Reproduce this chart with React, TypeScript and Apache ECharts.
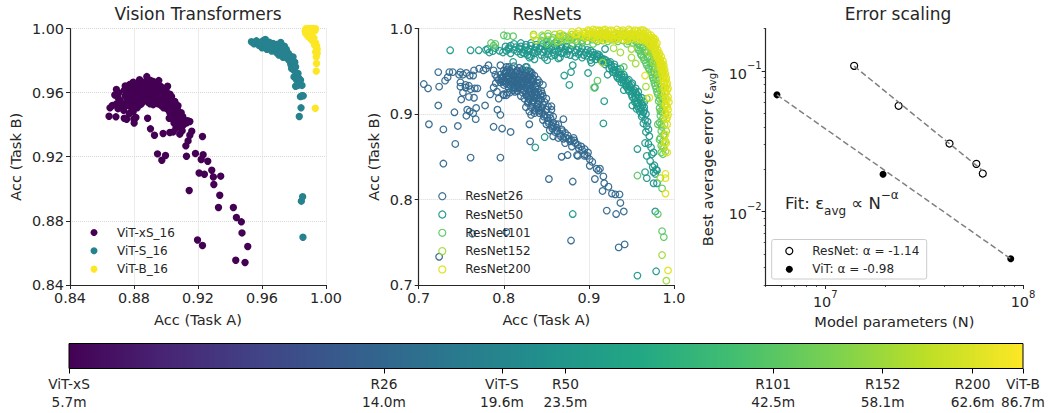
import React, { useEffect, useRef } from "react";
import * as echarts from "echarts";

const FONT = "DejaVu Sans";
const INK = "#262626";

const vitXS = [
  [.8644,.9453],[.8687,.9449],[.8739,.9440],[.8754,.9434],[.8799,.9436],[.8812,.9445],[.8801,.9411],[.8885,.9440],[.8903,.9374],[.8928,.9334],
  [.8947,.9218],[.8997,.9208],[.8974,.9178],[.8982,.9345],[.9024,.9351],[.9045,.9355],[.9086,.9341],[.9086,.9391],[.9118,.9418],[.9149,.9420],
  [.9161,.9359],[.9149,.9334],[.9138,.9299],[.9124,.9268],[.9128,.9203],[.9228,.9326],[.9184,.9220],[.9232,.9212],[.9220,.9183],[.9261,.9172],
  [.9207,.9099],[.9240,.9091],[.9286,.9116],[.9296,.9074],[.9299,.9027],[.9342,.9079],[.9336,.8960],[.9328,.8883],[.9145,.8989],[.9421,.8883],
  [.9440,.8821],[.9471,.8794],[.9475,.8725],[.9197,.8681],[.9228,.8646],[.9511,.8640],[.9436,.8554],[.9494,.8540],
  [.8690,.9620],[.8740,.9615],[.8795,.9665],[.8835,.9680],[.8880,.9700],[.8920,.9670],[.8955,.9675],[.8985,.9625],[.9025,.9590],[.9045,.9545],
  [.9060,.9505],[.9085,.9460],[.9118,.9425],[.8650,.9505],[.8690,.9530],[.8680,.9585],[.8715,.9550],[.8750,.9530],[.8780,.9510],[.8810,.9540],
  [.8850,.9535],[.8900,.9530],[.8950,.9530],[.9000,.9505],[.9020,.9440],[.9050,.9410],
  [.8745,.9642],[.8772,.9650],[.8801,.9633],[.8823,.9655],[.8852,.9640],[.8881,.9668],[.8912,.9645],[.8938,.9652],[.8967,.9638],[.8992,.9610],
  [.8790,.9604],[.8818,.9592],[.8849,.9610],[.8877,.9598],[.8908,.9615],[.8936,.9602],[.8969,.9590],[.9004,.9598],[.9021,.9562],
  [.8782,.9572],[.8809,.9565],[.8838,.9578],[.8871,.9560],[.8902,.9574],[.8931,.9562],[.8960,.9575],[.8991,.9560],[.9018,.9528],[.9040,.9515],
  [.8830,.9545],[.8861,.9552],[.8889,.9540],[.8921,.9545],[.8951,.9552],[.8982,.9535],[.9012,.9495],[.9038,.9470],
  [.9024,.9475],[.9050,.9478],[.9072,.9492],[.9033,.9442],[.9062,.9452],[.9094,.9440],[.9130,.9412],[.9068,.9410],[.9090,.9385],[.9062,.9378],[.9101,.9362],
  [.8760,.9590],[.8755,.9520],[.8735,.9490],[.8790,.9530],[.8830,.9610],[.8860,.9665],[.8905,.9675],[.8950,.9610],[.9005,.9545],[.8985,.9505],
  [.8730,.9510],[.8700,.9500],[.8665,.9520],[.8795,.9480],[.8820,.9505],[.8770,.9470],[.9060,.9530],[.9085,.9420],[.9010,.9640],[.8770,.9620],
  [.8760,.9622],[.8790,.9628],[.8820,.9618],[.8850,.9622],[.8880,.9630],[.8910,.9622],[.8940,.9626],[.8970,.9618],[.9000,.9615],
  [.8770,.9585],[.8800,.9590],[.8830,.9582],[.8860,.9588],[.8890,.9582],[.8920,.9590],[.8950,.9582],[.8980,.9588],[.9010,.9580],[.9035,.9575],
  [.8800,.9552],[.8830,.9558],[.8860,.9560],[.8890,.9555],[.8920,.9558],[.8950,.9552],[.8980,.9560],[.9010,.9552],[.9035,.9548],[.9055,.9545],
  [.8840,.9525],[.8920,.9525],[.8970,.9520],[.9020,.9520],[.9050,.9522],[.9075,.9518],[.8700,.9570],[.8705,.9600],[.8745,.9580],[.8760,.9555],
  [.9035,.9490],[.9065,.9488],[.9095,.9475],[.9055,.9455],[.9085,.9445],[.9105,.9450],[.9075,.9425],[.9110,.9400],[.9135,.9425],[.8720,.9525]
];
const vitS = [
  [.9534,.9917],[.9550,.9905],[.9565,.9923],[.9580,.9895],[.9590,.9915],[.9600,.9880],[.9610,.9925],[.9621,.9931],[.9627,.9900],[.9630,.9870],
  [.9645,.9915],[.9650,.9885],[.9660,.9860],[.9669,.9906],[.9675,.9880],[.9690,.9900],[.9690,.9850],[.9700,.9870],[.9705,.9835],[.9717,.9913],
  [.9720,.9855],[.9725,.9885],[.9731,.9820],[.9740,.9890],[.9745,.9845],[.9752,.9869],[.9755,.9815],[.9765,.9845],[.9770,.9800],[.9775,.9830],
  [.9780,.9775],[.9794,.9823],[.9790,.9790],[.9785,.9750],[.9800,.9740],[.9805,.9790],[.9810,.9760],[.9814,.9720],[.9800,.9698],[.9825,.9719],
  [.9815,.9680],[.9830,.9690],[.9841,.9678],[.9810,.9640],[.9825,.9645],[.9850,.9645],[.9840,.9575],[.9848,.9580],[.9858,.9580],[.9844,.9505],
  [.9833,.9451],[.9846,.8923],[.9854,.8950],[.9856,.8698]
];
const vitB = [
  [.9933,.9503],[.9939,.9734],[.9941,.9782],[.9939,.9823],[.9945,.9845],[.9935,.9854],[.9945,.9870],[.9929,.9896],[.9942,.9890],[.9935,.9910],
  [.9920,.9920],[.9908,.9931],[.9925,.9940],[.9895,.9945],[.9887,.9952],[.9910,.9960],[.9873,.9969],[.9895,.9970],[.9870,.9985],[.9885,.9985],
  [.9900,.9985],[.9915,.9985],[.9930,.9985],[.9875,.9998],[.9890,1.0],[.9905,.9998],[.9920,1.0],[.9935,.9998]
];
const resnet26 = [
  [.706,.935],[.711,.930],[.712,.888],[.723,.949],[.724,.932],[.723,.910],[.729,.882],[.743,.865],[.742,.902],[.746,.886],[.761,.849],[.796,.849],
  [.731,.939],[.734,.943],[.736,.949],[.740,.949],[.7475,.946],[.749,.949],[.752,.946],[.756,.948],[.760,.945],[.764,.945],[.765,.951],[.771,.953],
  [.776,.951],[.779,.953],[.782,.957],[.788,.951],[.790,.946],[.796,.957],[.803,.955],[.749,.937],[.749,.932],[.755,.934],[.759,.933],[.755,.931],
  [.766,.930],[.769,.930],[.761,.929],[.752,.925],[.759,.920],[.765,.919],[.750,.917],[.778,.910],[.784,.923],[.788,.931],[.7905,.936],[.794,.918],
  [.7995,.923],[.803,.922],[.807,.925],[.813,.926],[.7925,.905],[.796,.899],[.757,.905],[.7675,.907],[.760,.903],[.764,.901],[.756,.898],[.767,.894],
  [.788,.885],[.798,.883],[.808,.879],[.830,.888],[.831,.868],[.729,.842],[.724,.733],[.763,.760],[.803,.762],
  [.806,.955],[.812,.956],[.818,.954],[.826,.955],[.800,.951],[.804,.952],[.810,.953],[.816,.951],[.822,.952],[.830,.950],[.808,.949],[.814,.948],
  [.820,.950],[.826,.948],[.832,.949],[.796,.946],[.802,.947],[.806,.945],[.812,.946],[.818,.947],[.824,.945],[.830,.946],[.836,.945],[.792,.943],
  [.798,.942],[.804,.944],[.810,.942],[.816,.943],[.822,.942],[.828,.944],[.834,.942],[.794,.940],[.800,.939],[.806,.941],[.812,.939],[.818,.940],
  [.826,.939],[.832,.940],[.840,.940],[.796,.937],[.802,.936],[.808,.938],[.814,.936],[.820,.937],[.828,.936],[.834,.938],[.842,.937],[.800,.934],
  [.808,.933],[.816,.934],[.822,.933],[.830,.935],[.838,.933],[.846,.934],[.806,.930],[.812,.931],[.820,.929],[.826,.931],[.832,.930],[.840,.929],
  [.792,.926],[.804,.925],[.816,.927],[.822,.925],[.830,.926],[.836,.925],[.844,.927],[.800,.922],[.820,.921],[.826,.923],[.832,.921],[.838,.922],
  [.846,.921],[.824,.918],[.830,.917],[.836,.919],[.844,.917],[.850,.918],
  [.803,.950],[.809,.947],[.815,.950],[.821,.946],[.827,.951],[.833,.947],[.799,.944],[.805,.940],[.811,.944],[.817,.939],[.823,.940],[.829,.942],
  [.835,.940],[.803,.938],[.809,.935],[.815,.938],[.821,.935],[.827,.934],[.833,.936],[.839,.936],[.811,.928],[.817,.931],[.823,.928],[.829,.929],
  [.835,.928],[.841,.925],[.827,.921],[.833,.924],[.839,.919],[.845,.924],[.835,.916],[.841,.915],[.848,.914],[.829,.914],
  [.801,.948],[.807,.951],[.813,.944],[.819,.944],[.825,.949],[.831,.944],[.797,.941],[.803,.942],[.809,.940],[.815,.941],[.821,.938],[.827,.941],
  [.833,.938],[.799,.938],[.805,.935],[.811,.937],[.817,.936],[.824,.936],[.831,.933],[.837,.931],[.814,.930],[.818,.933],[.825,.927],[.831,.927],
  [.837,.926],[.843,.922],[.829,.919],[.835,.921],[.841,.918],[.833,.912],[.839,.909],[.845,.908],[.836,.904],[.841,.904],
  [.828,.913],[.834,.914],[.840,.912],[.846,.911],[.852,.909],[.856,.909],[.826,.908],[.832,.908],[.838,.906],[.844,.906],[.850,.905],[.856,.905],
  [.830,.903],[.836,.901],[.832,.899],[.842,.901],[.848,.899],[.854,.899],[.858,.897],[.846,.893],[.852,.892],[.858,.890],[.864,.888],[.850,.888],
  [.856,.886],[.862,.884],[.868,.882],[.854,.881],[.860,.879],[.866,.877],[.872,.878],[.858,.874],[.864,.872],[.870,.871],[.876,.871],[.882,.872],
  [.872,.866],[.878,.868],[.884,.866],[.880,.862],[.888,.860],[.892,.858],[.886,.852],[.895,.853],[.870,.894],[.868,.850],[.875,.852],[.887,.851],
  [.855,.895],[.851,.896],[.853,.889],[.857,.883],[.861,.888],[.863,.880],[.859,.885],[.867,.874],[.869,.880],[.873,.872],[.875,.875],[.879,.870],
  [.883,.869],[.887,.864],[.891,.862],[.895,.859],[.899,.855],[.847,.897],[.845,.902],[.841,.907],
  [.895,.851],[.898,.851],[.901,.847],[.904,.844],[.901,.8395],[.909,.836],[.913,.836],[.911,.834],[.907,.824],[.917,.827],[.918,.819],[.923,.815],
  [.916,.810],[.927,.807],[.931,.806],[.936,.806],[.937,.796],[.921,.787],[.932,.783],[.941,.786],[.935,.744],[.942,.7475],[.879,.752],[.853,.824],[.881,.821]
];
const resnet50 = [
  [.737,.9745],[.761,.9745],[.7706,.9745],[.779,.975],[.781,.976],[.783,.972],[.787,.9735],[.790,.977],[.795,.974],[.799,.972],[.803,.974],[.806,.978],
  [.808,.971],[.811,.961],[.827,.955],[.830,.966],[.836,.964],[.824,.971],
  [.812,.982],[.820,.983],[.826,.981],[.832,.983],[.838,.981],[.846,.982],[.852,.981],[.860,.983],[.868,.981],[.802,.979],[.808,.980],[.814,.978],
  [.820,.979],[.826,.978],[.832,.980],[.838,.978],[.844,.979],[.850,.980],[.856,.978],[.862,.980],[.868,.978],[.874,.979],[.880,.980],[.888,.978],
  [.806,.976],[.812,.975],[.818,.977],[.824,.975],[.830,.976],[.836,.975],[.842,.977],[.848,.975],[.854,.976],[.860,.975],[.866,.977],[.872,.975],
  [.878,.976],[.886,.975],[.892,.977],[.898,.975],[.816,.973],[.822,.972],[.828,.974],[.834,.972],[.840,.973],[.846,.972],[.852,.974],[.858,.972],
  [.864,.973],[.870,.972],[.876,.974],[.884,.972],[.890,.973],[.896,.972],[.902,.974],[.820,.970],[.828,.969],[.836,.971],[.844,.969],[.852,.970],
  [.860,.969],[.868,.971],[.878,.969],[.888,.970],[.894,.969],[.900,.971],[.906,.969],[.910,.970],[.832,.967],[.848,.966],[.856,.968],[.866,.966],
  [.884,.967],[.892,.966],[.898,.968],[.904,.966],[.910,.967],[.914,.966],[.902,.963],[.908,.964],[.914,.963],[.918,.964],
  [.921,.960],[.926,.957],[.930,.955],[.924,.953],[.929,.952],[.934,.952],[.931,.948],[.936,.949],[.933,.944],[.938,.946],[.942,.943],[.936,.941],
  [.940,.940],[.945,.939],[.941,.936],[.946,.935],[.950,.934],[.944,.932],[.949,.931],[.953,.928],[.947,.927],[.952,.925],[.956,.923],[.951,.920],
  [.955,.919],[.959,.918],[.954,.914],[.958,.913],[.962,.913],[.957,.909],[.961,.907],[.965,.908],[.960,.903],[.964,.902],[.967,.900],[.962,.897],
  [.966,.893],[.969,.891],[.964,.889],[.968,.886],[.970,.882],[.967,.879],[.971,.874],[.966,.866],[.970,.865],[.973,.861],[.968,.851],[.974,.853],
  [.976,.855],[.972,.845],[.975,.838],[.977,.840],[.979,.835],[.976,.832],[.980,.834],[.978,.830],[.966,.832],[.968,.825],[.976,.819],[.980,.819],
  [.916,.961],[.919,.958],[.923,.960],[.927,.954],[.932,.950],[.928,.949],[.935,.946],[.939,.943],[.934,.942],[.943,.938],[.938,.937],[.948,.933],
  [.943,.934],[.951,.927],[.946,.929],[.955,.925],[.950,.923],[.958,.921],[.953,.918],[.961,.916],[.956,.912],[.963,.910],[.959,.906],[.965,.904],[.963,.899],
  [.905,.972],[.909,.968],[.912,.969],[.916,.964],[.920,.963],[.925,.961],[.930,.958],[.937,.953],[.941,.946],[.947,.940],[.951,.936],[.955,.930],[.958,.926],[.962,.919],[.965,.914],
  [.978,.786],[.979,.716],[.957,.711],[.881,.783],[.957,.859],[.851,.963],[.864,.965],[.874,.970],[.881,.957],[.879,.949],[.871,.945],[.877,.934],
  [.899,.948],[.907,.931],[.918,.915],[.917,.889],[.922,.946],[.903,.960],[.919,.976],[.941,.928],[.951,.910],[.956,.906],[.848,.873],[.837,.861]
];
const resnet101 = [
  [.785,.983],[.788,.980],[.790,.982],[.800,.992],[.804,.991],[.811,.991],
  [.846,.990],[.852,.991],[.858,.989],[.864,.990],[.870,.991],[.876,.989],[.882,.990],[.888,.991],[.894,.989],[.900,.990],[.906,.991],[.912,.989],
  [.918,.990],[.924,.991],[.930,.989],[.936,.990],[.942,.991],[.948,.989],[.844,.986],[.850,.985],[.856,.987],[.862,.985],[.868,.986],[.874,.985],
  [.880,.987],[.886,.985],[.892,.986],[.898,.985],[.904,.987],[.910,.985],[.916,.986],[.922,.985],[.928,.987],[.934,.985],[.940,.986],[.946,.985],
  [.952,.987],[.851,.982],[.860,.983],[.880,.982],[.892,.983],[.905,.982],[.945,.982],[.952,.983],[.958,.982],
  [.956,.984],[.960,.980],[.958,.975],[.963,.977],[.961,.970],[.966,.972],[.964,.966],[.969,.966],[.967,.960],[.972,.960],[.970,.954],[.975,.955],
  [.973,.949],[.977,.948],[.975,.943],[.979,.941],[.977,.936],[.981,.935],[.979,.930],[.983,.928],[.981,.923],[.985,.920],[.982,.915],[.985,.912],
  [.983,.907],[.986,.903],[.984,.898],[.987,.895],[.983,.890],[.986,.885],[.985,.880],[.988,.876],[.984,.872],[.987,.868],[.985,.863],[.988,.860],
  [.985,.855],[.987,.853],[.983,.870],[.981,.888],
  [.957,.978],[.960,.974],[.962,.968],[.965,.963],[.968,.957],[.971,.952],[.974,.946],[.976,.940],[.978,.933],[.980,.926],[.983,.918],[.984,.903],[.985,.888],
  [.964,.979],[.967,.975],[.970,.968],[.973,.964],[.975,.959],[.978,.953],[.980,.946],[.982,.939],[.984,.932],[.985,.925],[.987,.917],[.987,.906],
  [.910,.939],[.906,.931],[.941,.955],[.957,.828],[.986,.813],[.981,.783],[.986,.763],[.988,.756],[.968,.918]
];
const resnet152 = [
  [.835,.993],[.845,.992],[.852,.994],[.860,.993],[.866,.994],[.870,.992],[.880,.993],[.890,.991],[.900,.992],[.910,.993],[.920,.991],[.930,.992],
  [.940,.993],[.950,.991],[.958,.992],[.872,.988],[.884,.987],[.896,.989],[.908,.987],[.920,.988],[.932,.987],[.944,.989],[.956,.987],[.962,.988],
  [.965,.985],[.968,.981],[.972,.977],[.970,.972],[.975,.970],[.978,.963],[.976,.960],[.981,.955],[.979,.950],[.983,.947],[.981,.942],[.985,.938],
  [.983,.933],[.987,.930],[.985,.925],[.988,.920],[.986,.915],[.989,.910],[.987,.905],[.990,.900],[.988,.895],[.989,.888],[.991,.880],[.988,.875],
  [.990,.868],[.987,.862],[.990,.856],
  [.876,.991],[.888,.990],[.902,.990],[.914,.989],[.926,.990],[.938,.991],[.948,.990],[.960,.990],[.968,.985],[.971,.981],[.973,.973],[.977,.967],[.980,.959],[.982,.951],
  [.866,.991],[.878,.988],[.894,.994],[.906,.990],[.916,.994],[.925,.988],[.936,.994],[.946,.987],[.952,.993],[.964,.991],[.970,.986],[.974,.980],[.976,.975],[.979,.968],[.983,.957],[.985,.948],
  [.864,.985],[.950,.976],[.937,.972],[.929,.977],[.950,.966],[.955,.959],[.916,.960],[.986,.735],[.991,.705],[.984,.825],[.838,.986],[.967,.932]
];
const resnet200 = [
  [.866,.994],[.886,.994],[.835,.991],
  [.905,.999],[.912,.998],[.919,.999],[.926,.998],[.933,.999],[.940,.998],[.947,.999],[.954,.998],[.961,.998],
  [.880,.996],[.888,.997],[.896,.995],[.904,.996],[.912,.997],[.920,.995],[.928,.996],[.936,.997],[.944,.995],[.952,.996],[.960,.995],[.966,.996],
  [.884,.993],[.892,.992],[.900,.994],[.908,.993],[.916,.992],[.924,.993],[.932,.994],[.940,.992],[.948,.993],[.956,.992],[.964,.994],[.970,.992],
  [.896,.990],[.904,.989],[.912,.990],[.920,.991],[.928,.989],[.936,.990],[.944,.989],[.952,.991],[.960,.989],[.968,.990],[.973,.989],
  [.910,.987],[.918,.986],[.930,.987],[.945,.986],[.958,.987],[.966,.986],[.974,.987],[.977,.985],
  [.901,.997],[.908,.998],[.915,.996],[.923,.997],[.931,.995],[.939,.996],[.948,.997],[.957,.997],[.964,.998],[.969,.995],[.973,.992],[.976,.989],
  [.898,.992],[.906,.991],[.913,.994],[.922,.990],[.930,.993],[.938,.991],[.946,.991],[.954,.993],[.962,.992],[.967,.988],[.971,.987],[.980,.983],
  [.893,.996],[.899,.998],[.906,.994],[.911,.992],[.917,.998],[.922,.993],[.926,.991],[.934,.992],[.942,.994],[.950,.994],[.958,.994],[.963,.990],
  [.914,.988],[.924,.988],[.934,.988],[.940,.987],[.950,.988],[.955,.990],[.962,.987],[.970,.984],[.972,.981],[.975,.986],[.978,.987],
  [.971,.984],[.976,.983],[.979,.980],[.974,.979],[.977,.976],[.981,.975],[.979,.971],[.983,.971],[.981,.966],[.985,.967],[.983,.962],[.987,.962],
  [.984,.957],[.988,.957],[.986,.952],[.989,.952],[.987,.947],[.990,.947],[.988,.942],[.991,.942],[.989,.937],[.992,.936],[.990,.931],[.993,.930],
  [.991,.925],[.993,.920],[.990,.918],[.994,.914],[.991,.910],[.993,.905],[.990,.902],[.993,.899],[.991,.894],[.992,.888],[.990,.876],[.989,.866],
  [.978,.978],[.980,.973],[.982,.969],[.984,.964],[.986,.959],[.987,.955],[.988,.950],[.989,.945],[.990,.940],[.991,.934],[.992,.928],[.992,.917],[.992,.908],[.992,.896],
  [.976,.981],[.978,.973],[.980,.968],[.982,.964],[.984,.960],[.985,.954],[.986,.948],[.987,.942],[.988,.936],[.989,.930],[.989,.924],[.990,.912],
  [.991,.866],[.992,.855],[.990,.830],[.990,.825],[.990,.807],[.993,.717],[.966,.945],[.971,.919]
];
const resnetScaling = [[14.0e6,.1085],[23.5e6,.0564],[42.5e6,.0304],[58.1e6,.0218],[62.6e6,.0186]];
const vitScaling = [[5.7e6,.0675],[19.6e6,.0184],[86.7e6,.00461]];
const resnetFit = [[14.0e6,.108],[62.6e6,.0195]];
const vitFit = [[5.7e6,.0675],[86.7e6,.00461]];

const cbarPositions = [5.7, 14.0, 19.6, 23.5, 42.5, 58.1, 75.1, 86.7];
const cbarNames = ["ViT-xS", "R26", "ViT-S", "R50", "R101", "R152", "R200", "ViT-B"];
const cbarSizes = ["5.7m", "14.0m", "19.6m", "23.5m", "42.5m", "58.1m", "62.6m", "86.7m"];
const viridis = ["#440154","#482475","#414487","#355f8d","#2a788e","#21918c","#22a884","#44bf70","#7ad151","#bddf26","#fde725"];

const sx = (grid: number) => ({ type: "scatter", xAxisIndex: grid, yAxisIndex: grid, clip: true });
const filled = (name: string, color: string, data: number[][]) => ({ ...sx(0), name, data, symbolSize: 7.4, itemStyle: { color, opacity: 1 } });
const hollow = (name: string, color: string, data: number[][]) => ({
  ...sx(1), name, data, symbolSize: 6.6, itemStyle: { color: "rgba(255,255,255,0)", borderColor: color, borderWidth: 1.25, opacity: 0.95 }
});

const valueAxis = (gridIndex: number, min: number, max: number, interval: number, digits: number, name: string, gap: number) => ({
  type: "value", gridIndex, min, max, interval, name, nameLocation: "middle", nameGap: gap,
  nameTextStyle: { fontFamily: FONT, fontSize: 14.6, color: INK },
  axisLine: { onZero: false, lineStyle: { color: INK, width: 1.2 } },
  axisTick: { length: 4, lineStyle: { color: INK, width: 1 } },
  axisLabel: { fontFamily: FONT, fontSize: 14.4, color: INK, margin: 6, hideOverlap: false, showMinLabel: true, showMaxLabel: true,
    formatter: (v: number) => v.toFixed(digits) },
  splitLine: { show: true, lineStyle: { color: "#d8d8d8", type: "dotted", width: 1 } }
});

const supRich = { b: { fontFamily: FONT, fontSize: 14.4, color: INK, lineHeight: 20, verticalAlign: "bottom" }, s: { fontFamily: FONT, fontSize: 10, color: INK, lineHeight: 20, verticalAlign: "top" } };
const decade = (v: number) => `{b|10}{s|${Math.round(Math.log10(v)).toString().replace("-", "\u2212")}}`;

const logAxis = (gridIndex: number, min: number, max: number, majors: number[], minors: number[], pos: string, name: any) => [
  { type: "log", gridIndex, min, max, logBase: 10, position: pos, ...name,
    axisLine: { onZero: false, lineStyle: { color: INK, width: 1.2 } },
    axisTick: { customValues: majors, length: 4, lineStyle: { color: INK, width: 1 } },
    axisLabel: { customValues: majors, margin: 4, formatter: decade, rich: supRich, hideOverlap: false },
    splitLine: { show: false }, minorTick: { show: false }, minorSplitLine: { show: false } },
  { type: "log", gridIndex, min, max, logBase: 10, position: pos,
    axisLine: { show: false, onZero: false },
    axisTick: { customValues: minors, length: 2, lineStyle: { color: INK, width: 0.8 } },
    axisLabel: { show: false }, splitLine: { show: false }, minorTick: { show: false } }
];

const legendBase = (names: string[], left: number, top: number, borderWidth: number) => ({
  orient: "vertical", left, top, data: names, itemWidth: 36, itemHeight: 7, itemGap: 4.3, padding: 0, selectedMode: false,
  itemStyle: { borderWidth },
  textStyle: { fontFamily: FONT, fontSize: 12, color: INK, lineHeight: 14 }, backgroundColor: "transparent"
});

const title = (text: string, left: number) => ({
  text, left, top: 5, padding: 0, textAlign: "center", textStyle: { fontFamily: FONT, fontSize: 17, fontWeight: "normal", color: INK }
});

export default function App() {
  const ref = useRef<HTMLDivElement>(null);
  useEffect(() => {
    const chart = echarts.init(ref.current!, null, { renderer: "svg" });
    const option: any = {
      animation: false,
      textStyle: { fontFamily: FONT },
      title: [title("Vision Transformers", 198), title("ResNets", 547), title("Error scaling", 898)],
      grid: [
        { left: 70, top: 28.5, width: 256, height: 256.5 },
        { left: 418.7, top: 28.5, width: 255.3, height: 256.5 },
        { left: 765.7, top: 28.5, width: 257.3, height: 256.5 },
        { left: 69, top: 343.5, width: 954, height: 25, show: true, borderColor: "#000", borderWidth: 1,
          backgroundColor: new echarts.graphic.LinearGradient(0, 0, 1, 0, viridis.map((color, i) => ({ offset: i / (viridis.length - 1), color }))) }
      ],
      xAxis: [
        valueAxis(0, 0.84, 1, 0.04, 2, "Acc (Task A)", 27),
        valueAxis(1, 0.7, 1, 0.1, 1, "Acc (Task A)", 27),
        ...logAxis(2, 5e6, 1e8, [1e7, 1e8], [5e6,6e6,7e6,8e6,9e6,2e7,3e7,4e7,5e7,6e7,7e7,8e7,9e7], "bottom",
          { name: "Model parameters (N)", nameLocation: "middle", nameGap: 27.5, nameTextStyle: { fontFamily: FONT, fontSize: 14.6, color: INK } }),
        { type: "log", gridIndex: 3, min: 5.7, max: 86.7, logBase: 10, position: "bottom",
          axisLine: { show: false, onZero: false },
          axisTick: { customValues: cbarPositions, length: 5, lineStyle: { color: "#000", width: 1 } },
          axisLabel: { customValues: cbarPositions, margin: 6, hideOverlap: false, showMinLabel: true, showMaxLabel: true, fontFamily: FONT, fontSize: 13.7, color: INK, lineHeight: 18,
            formatter: (v: number) => {
              let k = 0;
              cbarPositions.forEach((p, i) => { if (Math.abs(p - v) < Math.abs(cbarPositions[k] - v)) k = i; });
              return `${cbarNames[k]}\n${cbarSizes[k]}`;
            } },
          splitLine: { show: false }, minorTick: { show: false } }
      ],
      yAxis: [
        valueAxis(0, 0.84, 1, 0.04, 2, "Acc (Task B)", 47),
        valueAxis(1, 0.7, 1, 0.1, 1, "Acc (Task B)", 38),
        ...logAxis(2, 0.003, 0.2, [0.01, 0.1], [.003,.004,.005,.006,.007,.008,.009,.02,.03,.04,.05,.06,.07,.08,.09,.2], "left",
          { name: "{t|Best average error (\u03B5}{u|avg}{t|)}", nameLocation: "middle", nameGap: 48,
            nameTextStyle: { fontFamily: FONT, fontSize: 14.6, color: INK, rich: {
              t: { fontFamily: FONT, fontSize: 14.6, color: INK, lineHeight: 18, verticalAlign: "top" },
              u: { fontFamily: FONT, fontSize: 10, color: INK, lineHeight: 18, verticalAlign: "bottom" } } } }),
        { type: "value", gridIndex: 3, min: 0, max: 1, show: false }
      ],
      legend: [
        legendBase(["ViT-xS_16", "ViT-S_16", "ViT-B_16"], 90.5, 225.5, 0),
        legendBase(["ResNet26", "ResNet50", "ResNet101", "ResNet152", "ResNet200"], 438.2, 189.2, 1.2),
        legendBase(["ResNet: \u03B1 = -1.14", "ViT: \u03B1 = -0.98"], 785.2, 244, 1.2)
      ],
      graphic: [
        { type: "rect", z: 0, shape: { x: 771.7, y: 239.5, width: 155, height: 39.5, r: 2 }, style: { fill: "#fff", stroke: "#cccccc", lineWidth: 1 } },
        { type: "text", z: 5, x: 785, y: 189, style: {
          text: "{t|Fit: \u03B5}{u|avg}{t| \u221D N}{p|\u2212\u03B1}",
          rich: {
            t: { fontFamily: FONT, fontSize: 16.5, fill: INK, lineHeight: 28, verticalAlign: "middle" },
            u: { fontFamily: FONT, fontSize: 12, fill: INK, lineHeight: 28, verticalAlign: "bottom" },
            p: { fontFamily: FONT, fontSize: 12, fill: INK, lineHeight: 28, verticalAlign: "top" }
          } } }
      ],
      series: [
        filled("ViT-xS_16", viridis[0], vitXS),
        filled("ViT-S_16", "#26828e", vitS),
        filled("ViT-B_16", "#fde725", vitB),
        hollow("ResNet26", "#31688e", resnet26),
        hollow("ResNet50", "#1f988b", resnet50),
        hollow("ResNet101", "#5cc863", resnet101),
        hollow("ResNet152", "#a0da39", resnet152),
        hollow("ResNet200", "#dde318", resnet200),
        { type: "line", xAxisIndex: 2, yAxisIndex: 2, data: resnetFit, symbol: "none", lineStyle: { color: "#808080", type: [6, 3], width: 1.5 } },
        { type: "line", xAxisIndex: 2, yAxisIndex: 2, data: vitFit, symbol: "none", lineStyle: { color: "#808080", type: [6, 3], width: 1.5 } },
        { type: "scatter", name: "ResNet: \u03B1 = -1.14", xAxisIndex: 2, yAxisIndex: 2, data: resnetScaling, symbolSize: 7, itemStyle: { color: "#fff", borderColor: "#000", borderWidth: 1.2, opacity: 1 } },
        { type: "scatter", name: "ViT: \u03B1 = -0.98", xAxisIndex: 2, yAxisIndex: 2, data: vitScaling, symbolSize: 7, itemStyle: { color: "#000", opacity: 1 } }
      ]
    };
    chart.setOption(option);
    return () => chart.dispose();
  }, []);
  return <div ref={ref} style={{ position: "absolute", left: 0, top: 0, width: 1049, height: 413 }} />;
}
